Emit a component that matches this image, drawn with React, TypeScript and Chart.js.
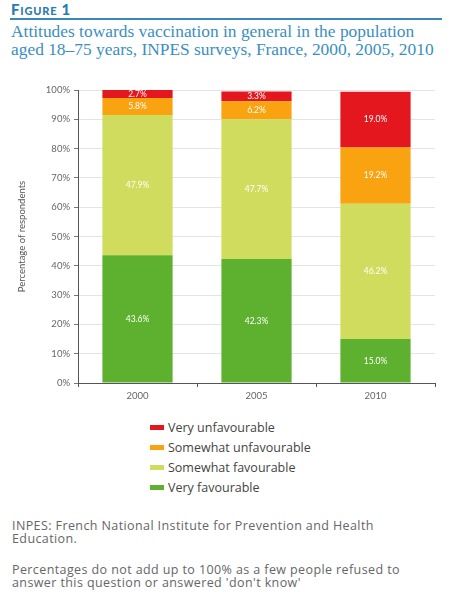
import React, { useEffect, useRef } from "react";
import { Chart, registerables } from "chart.js";

Chart.register(...registerables);

const categories = ["2000", "2005", "2010"];
const veryFavourable = [43.6, 42.3, 15.0];
const somewhatFavourable = [47.9, 47.7, 46.2];
const somewhatUnfavourable = [5.8, 6.2, 19.2];
const veryUnfavourable = [2.7, 3.3, 19.0];
const yTicks = [0, 10, 20, 30, 40, 50, 60, 70, 80, 90, 100];

const seriesNames = ["Very favourable", "Somewhat favourable", "Somewhat unfavourable", "Very unfavourable"];
const seriesColors = ["#5db12f", "#d0dc5e", "#f8a30f", "#e4161e"];
const seriesValues = [veryFavourable, somewhatFavourable, somewhatUnfavourable, veryUnfavourable];

const labelPlugin = {
  id: "segLabels",
  afterDatasetsDraw(chart: any) {
    const ctx = chart.ctx;
    ctx.save();
    ctx.font = "8.5px Lato";
    ctx.fillStyle = "#ffffff";
    ctx.textAlign = "center";
    ctx.textBaseline = "middle";
    chart.data.datasets.forEach((ds: any, i: number) => {
      const meta = chart.getDatasetMeta(i);
      meta.data.forEach((bar: any, j: number) => {
        const v = ds.data[j];
        const y = (bar.y + bar.base) / 2;
        ctx.fillText(v.toFixed(1) + "%", bar.x, y);
      });
    });
    ctx.restore();
  },
};

export default function App() {
  const ref = useRef<HTMLCanvasElement>(null);
  useEffect(() => {
    if (!ref.current) return;
    const chart = new Chart(ref.current, {
      type: "bar",
      data: {
        labels: categories,
        datasets: seriesNames.map((n, i) => ({
          label: n,
          data: seriesValues[i],
          backgroundColor: seriesColors[i],
          borderWidth: 0,
          barPercentage: 0.59,
          categoryPercentage: 1,
        })),
      },
      options: {
        responsive: false,
        animation: false,
        layout: { padding: { top: 12, right: 34, left: 0, bottom: 0 } },
        plugins: { legend: { display: false }, tooltip: { enabled: false } },
        scales: {
          x: {
            stacked: true,
            offset: true,
            grid: { offset: true, drawOnChartArea: false, tickLength: 4, color: "#555" },
            border: { color: "#555", width: 1 },
            ticks: { font: { family: "Lato", size: 9.5 }, color: "#666", padding: 3 },
            afterFit: (s: any) => { s.height = 20; },
          },
          y: {
            stacked: true,
            min: 0,
            max: 100,
            afterBuildTicks: (s: any) => { s.ticks = yTicks.map((v) => ({ value: v })); },
            ticks: {
              font: { family: "Lato", size: 9.5 },
              color: "#666",
              padding: 4,
              callback: (v: any) => v + "%",
            },
            grid: { color: "#e4e4e4", tickLength: 4, tickColor: "#777" },
            border: { color: "#555", width: 1 },
            title: {
              display: true,
              text: "Percentage of respondents",
              font: { family: "Lato", size: 9.5 },
              color: "#555",
              padding: { top: 16, bottom: 0 },
            },
            afterFit: (s: any) => { s.width = 78; },
          },
        },
      },
      plugins: [labelPlugin],
    } as any);
    return () => chart.destroy();
  }, []);

  const legendOrder = [3, 2, 1, 0];
  const noteStyle: React.CSSProperties = {
    position: "absolute",
    left: 12,
    width: 457,
    fontFamily: "Open Sans",
    fontSize: 12.5,
    letterSpacing: 0.4,
    lineHeight: "12.5px",
    color: "#666",
    whiteSpace: "nowrap",
  };
  return (
    <div style={{ position: "fixed", left: 0, top: 0, width: 469, height: 592, background: "#fff", overflow: "hidden" }}>
      <div style={{ position: "absolute", left: 11, top: 0, fontFamily: "Lato", fontWeight: 900, fontSize: 15, color: "#2a7db0", letterSpacing: 0.8, fontVariant: "small-caps" }}>
        Figure 1
      </div>
      <div style={{ position: "absolute", left: 10, top: 18, width: 432, height: 2, background: "#3b88b8" }} />
      <div style={{ position: "absolute", left: 11, top: 23, fontFamily: "Liberation Serif", fontSize: 17.4, lineHeight: "17.5px", color: "#3a8fbf", whiteSpace: "nowrap" }}>
        Attitudes towards vaccination in general in the population
        <br />
        aged 18–75 years, INPES surveys, France, 2000, 2005, 2010
      </div>
      <canvas ref={ref} width={469} height={325} style={{ position: "absolute", left: 0, top: 78, width: 469, height: 325 }} />
      <div style={{ position: "absolute", left: 150, top: 417 }}>
        {legendOrder.map((i) => (
          <div key={i} style={{ display: "flex", alignItems: "center", height: 20 }}>
            <div style={{ width: 14, height: 5, background: seriesColors[i], marginRight: 4 }} />
            <span style={{ fontFamily: "Open Sans", fontSize: 12.5, color: "#444" }}>{seriesNames[i]}</span>
          </div>
        ))}
      </div>
      <div style={{ ...noteStyle, top: 520 }}>
        INPES: French National Institute for Prevention and Health
        <br />
        Education.
      </div>
      <div style={{ ...noteStyle, top: 564 }}>
        Percentages do not add up to 100% as a few people refused to
        <br />
        answer this question or answered 'don't know'
      </div>
    </div>
  );
}
